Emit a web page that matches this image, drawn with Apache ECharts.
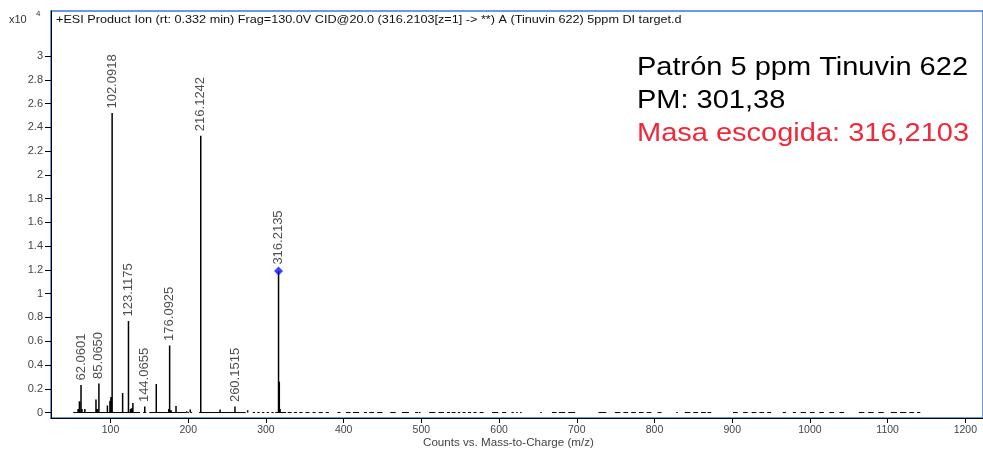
<!DOCTYPE html>
<html><head><meta charset="utf-8">
<script src="https://cdn.jsdelivr.net/npm/echarts@6/dist/echarts.min.js"></script>
<style>html,body{margin:0;padding:0;background:#fff}#c{width:983px;height:450px}</style>
</head><body><div id="c"></div>
<script>
// ---- data (intensity in counts x10^4) ----
const labeledMz  = [62.0601, 85.0650, 102.0918, 123.1175, 144.0655, 176.0925, 216.1242, 260.1515, 316.2135];
const labeledTxt = ['62.0601', '85.0650', '102.0918', '123.1175', '144.0655', '176.0925', '216.1242', '260.1515', '316.2135'];
const labeledInt = [0.232, 0.245, 2.52, 0.77, 0.05, 0.565, 2.33, 0.05, 1.19];
const precursorMz = 316.2135;
const otherMz  = [58.3, 60.0, 63.3, 67.0, 81.3, 83.0, 96.0, 99.3, 100.6, 115.6, 125.8, 127.0, 128.8, 158.9, 175.0, 178.0, 184.3, 198.0, 202.6, 241.0, 276.5, 317.2, 318.2];
const otherInt = [0.03, 0.095, 0.03, 0.03, 0.11, 0.03, 0.06, 0.10, 0.13, 0.165, 0.03, 0.035, 0.08, 0.24, 0.03, 0.02, 0.055, 0.01, 0.025, 0.025, 0.02, 0.26, 0.03];
const baseStart = [52, 142, 150, 199, 203, 214, 283, 289, 295, 301, 307, 312, 328, 336, 343, 351, 360, 368, 377, 392, 403, 412, 426, 433, 443, 460, 475, 492, 497, 510, 522, 533, 539, 547, 553, 560, 567, 575, 591, 604, 616, 622, 627, 653, 668, 677, 689, 728, 749, 760, 770, 780, 790, 804, 828, 839, 850, 860, 868, 901, 914, 925, 935, 945, 965, 978, 988, 1000, 1012, 1025, 1038, 1063, 1075, 1088, 1104, 1116, 1128, 1138];
const baseEnd   = [138, 146, 198, 201, 205, 274, 286, 292, 298, 304, 310, 326, 333, 340, 347, 356, 364, 373, 381, 396, 409, 420, 430, 439, 450, 467, 484, 496, 499, 518, 529, 537, 544, 550, 557, 564, 571, 580, 599, 609, 619, 624, 629, 655, 674, 685, 698, 738, 756, 766, 776, 786, 796, 809, 830, 846, 856, 866, 873, 907, 920, 931, 941, 950, 969, 982, 995, 1006, 1018, 1031, 1044, 1070, 1082, 1095, 1112, 1124, 1134, 1142];
const yTicks = [0, 0.2, 0.4, 0.6, 0.8, 1, 1.2, 1.4, 1.6, 1.8, 2, 2.2, 2.4, 2.6, 2.8, 3];
const xTicks = [100, 200, 300, 400, 500, 600, 700, 800, 900, 1000, 1100, 1200];
const headerText = '+ESI Product Ion (rt: 0.332 min) Frag=130.0V CID@20.0 (316.2103[z=1] -> **) A (Tinuvin 622) 5ppm DI target.d';
const noteLines = ['Patrón 5 ppm Tinuvin 622', 'PM: 301,38', 'Masa escogida: 316,2103'];
const xAxisTitle = 'Counts vs. Mass-to-Charge (m/z)';

// ---- build series data ----
const stickData = [];
function addStick(m, h) { stickData.push([m, 0], [m, h], [m, '-']); }
labeledMz.forEach((m, i) => addStick(m, labeledInt[i]));
otherMz.forEach((m, i) => addStick(m, otherInt[i]));
const baseData = [];
baseStart.forEach((s, i) => { baseData.push([s, 0], [baseEnd[i], 0], [baseEnd[i], '-']); });
const labelData = labeledMz.map((m, i) => {
  const pre = m === precursorMz;
  return {
    name: labeledTxt[i], value: [m, labeledInt[i]],
    symbol: pre ? 'diamond' : 'circle',
    symbolSize: pre ? 9 : 1,
    itemStyle: { color: pre ? '#1010ff' : 'rgba(0,0,0,0)' },
    label: { distance: pre ? 2 : 4 }
  };
});

const FONT = '"Liberation Sans", Arial, sans-serif';
const SX = 1.16;
const chart = echarts.init(document.getElementById('c'), null, { renderer: 'canvas' });
chart.setOption({
  animation: false,
  backgroundColor: '#fff',
  grid: { left: 51, top: 11, right: -3, bottom: 32, show: true, borderColor: '#3b78db', borderWidth: 1.5, containLabel: false },
  xAxis: {
    type: 'value', min: 23.43, max: 1222.7,
    axisLine: { show: true, onZero: false, lineStyle: { color: '#000', width: 1 } },
    axisTick: { show: true, length: 5, lineStyle: { color: '#000' }, customValues: xTicks },
    axisLabel: { customValues: xTicks, fontSize: 10.5, color: '#444', fontFamily: FONT, margin: 7,
      formatter: v => String(v) },
    splitLine: { show: false }
  },
  yAxis: {
    type: 'value', min: -0.046, max: 3.379,
    axisLine: { show: true, onZero: false, lineStyle: { color: '#000', width: 1 } },
    axisTick: { show: true, length: 6, lineStyle: { color: '#000' }, customValues: yTicks },
    axisLabel: { customValues: yTicks, fontSize: 11, color: '#444', fontFamily: FONT, margin: 8,
      formatter: v => String(Number(v.toFixed(1))) },
    splitLine: { show: false }
  },
  series: [
    { type: 'line', data: baseData, symbol: 'none', connectNulls: false,
      lineStyle: { color: '#000', width: 1 }, silent: true, z: 2 },
    { type: 'line', data: stickData, symbol: 'none', connectNulls: false,
      lineStyle: { color: '#000', width: 1.5 }, silent: true, z: 3 },
    { type: 'scatter', data: labelData, z: 5, labelLayout: { hideOverlap: false },
      label: { show: true, position: 'top', rotate: 90, align: 'left', verticalAlign: 'middle',
        formatter: p => p.name, fontSize: 13, color: '#222', fontFamily: FONT } }
  ],
  graphic: [
    { type: 'text', left: 9, top: 14, style: { text: 'x10', font: '11px ' + FONT, fill: '#333' } },
    { type: 'text', left: 36, top: 10, style: { text: '4', font: '8px ' + FONT, fill: '#333' } },
    { type: 'text', x: 56, y: 14, scaleX: 1.15, style: { text: headerText, font: '11px ' + FONT, fill: '#111' } },
    { type: 'text', x: 637, y: 56, scaleX: SX, style: { text: noteLines[0], font: '25px ' + FONT, fill: '#000' } },
    { type: 'text', x: 637, y: 89, scaleX: SX, style: { text: noteLines[1], font: '25px ' + FONT, fill: '#000' } },
    { type: 'text', x: 637, y: 122, scaleX: SX, style: { text: noteLines[2], font: '25px ' + FONT, fill: '#f0283a' } },
    { type: 'text', x: 423, y: 438, scaleX: SX, style: { text: xAxisTitle, font: '10px ' + FONT, fill: '#444' } }
  ]
});
</script>
</body></html>
